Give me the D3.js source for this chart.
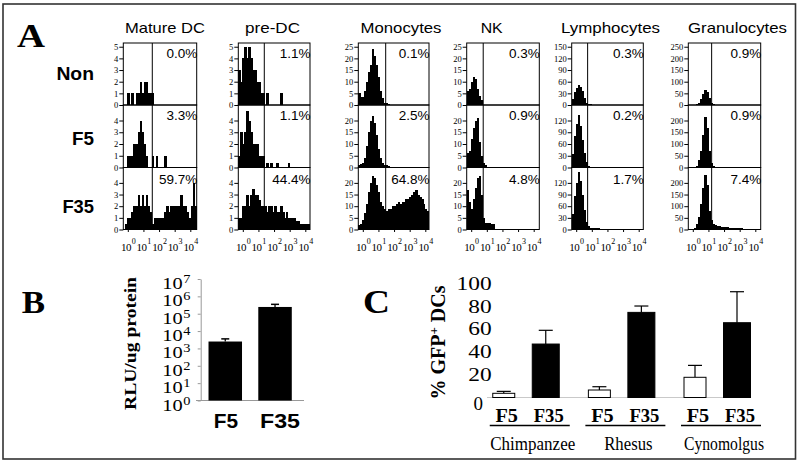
<!DOCTYPE html>
<html><head><meta charset="utf-8">
<script src="https://cdn.jsdelivr.net/npm/d3@7"></script>
<style>body{margin:0;background:#fff}svg{display:block}</style>
</head><body><svg id="c" width="800" height="463"></svg>
<script>
// ================= DATA =================
const populations = ["Mature DC","pre-DC","Monocytes","NK","Lymphocytes","Granulocytes"];
const conditions = ["Non","F5","F35"];
const pctNon = ["0.0%","1.1%","0.1%","0.3%","0.3%","0.9%"];
const pctF5  = ["3.3%","1.1%","2.5%","0.9%","0.2%","0.9%"];
const pctF35 = ["59.7%","44.4%","64.8%","4.8%","1.7%","7.4%"];
const gateLog = [1.58, 1.45, 1.55, 0.91, 0.89, 1.29];   // gate position, decades
const yTicksMDC  = [0,1,2,3,4,5];
const yTicksPre  = [0,1,2,3,4,5];
const yTicksMono = [0,5,10,15,20,25];
const yTicksNK   = [0,5,10,15,20,25];
const yTicksLym  = [0,30,60,90,120,150];
const yTicksGran = [0,50,100,150,200,250];
const xExponents = ["0","1","2","3","4"];

// histogram counts, 36 bins over 10^0..10^4
const mdcNon = [0,0,1,0,1,0,1,1,2,1, 2,2,1,1,1,0,0,0,0,0, 0,0,0,0,0,0,0,0,0,0, 0,0,0,0,0,0];
const mdcF5  = [0,0,1,1,1,2,2,3,4,3, 2,1,0,0,1,0,1,0,0,0, 1,0,0,0,0,0,0,0,0,0, 0,0,0,0,0,0];
const mdcF35 = [0,0.5,1,1,1.5,2,2,3,2,3, 2,3,2,1.5,0.5,1,1,1,1,1, 1.5,2,1.5,2,2,2,2,2,3,2, 2,1.5,1,2,4,2];
const preNon = [3,2,4,5,4,5,4,3,3,2, 2,1,1,0,1,0,0,0,0,0, 0,1,0,0,0,0,0,0,0,0, 0,0,0,0,0,0];
const preF5  = [1,3,2,3,4.8,4,3,2,2,2, 1,1,1,0,0.4,0,0.4,0,0,0.4, 0,0,0,0,0,0.4,0,0,0,0, 0,0,0,0,0,0];
const preF35 = [1,1,2,2,3,2,3,3.5,3,3, 2.5,2,2,2,1.5,2,2,1.5,2,1.5, 1.5,2,1.5,1,1.5,1,1,1,1,0.7, 0.7,0.5,0.5,0.5,0.5,0.5];
const monoNon = [5,3.5,3.5,6,10,14,17,24,21,17, 12,6,3,1,1,0.5,0,0,0,0, 0,0,0,0,0,0,0,0,0,0, 0,0,0,0,0,0];
const monoF5  = [1,1.5,2,4,9,15,20,22,19,14, 8,4,2,1,1,0.5,0.4,0.4,0.4,0.4, 0.4,0.4,0.4,0.4,0.4,0.4,0.4,0.4,0.4,0.4, 0.4,0.4,0.4,0.4,0.4,0.4];
const monoF35 = [2,2.5,4,7,11,16,20,23,22,19, 16,12,10,9,8,9,9,10,10,11, 12,11,12,12,13,13,14,15,16,17, 15,14,13,11,9,8];
const nkNon = [6,7,10,12,11,7,4,2,0,0, 0,0,0,0,0,0,0,0,0,0, 0,0,0,0,0,0,0,0,0,0, 0,0,0,0,0,0];
const nkF5  = [6,7,12,17,20,21,11,5,2,1, 0,0,0,0,0,0,0,0,0,0, 0,0,0,0,0,0,0,0,0,0, 0,0,0,0,0,0];
const nkF35 = [17,12,9,13,18,22,23,15,5,3, 3,3,2.5,2.5,0,0,0,0,0,0, 0,0,0,0,0,0,0,0,0,0, 0,0,0,0,0,0];
const lymNon = [15,33,45,52,46,35,18,6,2,1.5, 1,0,0,0,0,0,0,0,0,0, 0,0,0,0,0,0,0,0,0,0, 0,0,0,0,0,0];
const lymF5  = [35,80,110,135,105,70,38,14,5,2, 1,0,0,0,0,0,0,0,0,0, 0,0,0,0,0,0,0,0,0,0, 0,0,0,0,0,0];
const lymF35 = [40,85,120,148,125,90,50,20,8,5, 4,4,3,3,2,2,1.5,1.5,1,1, 1,1,1,1,1,1,0,0,0,0, 0,0,0,0,0,0];
const granNon = [0,0,0,2,5,10,25,48,65,55, 30,10,3,1,0,0,0,0,0,0, 0,0,0,0,0,0,0,0,0,0, 0,0,0,0,0,0];
const granF5  = [0,0,0,2,8,30,70,140,215,170, 70,20,6,2,0,0,0,0,0,0, 0,0,0,0,0,0,0,0,0,0, 0,0,0,0,0,0];
const granF35 = [0,0,3,8,25,55,110,180,235,190, 80,40,25,20,16,14,12,11,10,9, 8,7,7,6,6,5,5,4,4,4, 3,3,3,2,2,2];

// Panel B
const bCats = ["F5","F35"];
const bMean = [2500, 245000];
const bErrTop = [3550, 347000];
const bExponents = [0,1,2,3,4,5,6,7];

// Panel C
const species = ["Chimpanzee","Rhesus","Cynomolgus"];
const vectors = ["F5","F35"];
const f5Mean = [3.7, 6.6, 17.8];
const f5Err  = [1.7, 2.9, 10.5];
const f35Mean = [47.1, 75.0, 65.9];
const f35Err  = [12.1, 5.6, 27.3];
const cTicks = [0,20,40,60,80,100];

// ================= LAYOUT =================
const svg = d3.select("#c");
const SANS = "'Liberation Sans', Arial, sans-serif";
const SERIF = "'Liberation Serif', 'Times New Roman', serif";
function T(p, x, y, s, o = {}) {
  const t = p.append("text").attr("x", x).attr("y", y).text(s)
    .attr("font-family", o.fam || SANS).attr("font-size", o.size || 12)
    .attr("font-weight", o.bold ? "bold" : "normal")
    .attr("text-anchor", o.anchor || "start").attr("fill", "#000");
  if (o.len) t.attr("textLength", o.len).attr("lengthAdjust", "spacingAndGlyphs");
  return t;
}

svg.append("rect").attr("x", 3).attr("y", 4).attr("width", 792.5).attr("height", 455)
  .attr("fill", "none").attr("stroke", "#333").attr("stroke-width", 1.6);

// ---------- Panel A ----------
const histData = [
  [mdcNon, mdcF5, mdcF35], [preNon, preF5, preF35], [monoNon, monoF5, monoF35],
  [nkNon, nkF5, nkF35], [lymNon, lymF5, lymF35], [granNon, granF5, granF35]
];
const yTicksAll = [yTicksMDC, yTicksPre, yTicksMono, yTicksNK, yTicksLym, yTicksGran];
const pctAll = [pctNon, pctF5, pctF35];
const colLeft = [123.3, 238.3, 358.3, 466.7, 571.7, 688.3];
const colRight = [196.7, 310, 429, 539.3, 643.3, 760.7];
const rowTop = [43, 105, 167.5];
const rowBot = [105, 167.5, 229.5];
const titleCenter = [165, 272.5, 401, 491.7, 610.5, 737.5];
const titleLen = [80, 55, 81, 22, 99, 99];
const rowLabelBase = [80, 145, 213];
const rowLabelLen = [37.6, 22, 31.6];
const nBins = 36;

const A = svg.append("g");
T(A, 17, 47, "A", { fam: SERIF, size: 34, bold: true, len: 28 });
conditions.forEach((c, r) => T(A, 94, rowLabelBase[r], c, { size: 18, bold: true, anchor: "end", len: rowLabelLen[r] }));

populations.forEach((pop, ci) => {
  const g = A.append("g");
  T(g, titleCenter[ci], 33, pop, { size: 15, anchor: "middle", len: titleLen[ci] });
  const x = d3.scaleLinear().domain([0, 4]).range([colLeft[ci], colRight[ci]]);
  const xl = d3.scaleLinear().domain([0, 4]).range([colLeft[ci] + 5, colLeft[ci] + 67.5]);
  const ticks = yTicksAll[ci];
  const ymax = ticks[ticks.length - 1] * 1.064;
  conditions.forEach((cond, r) => {
    const y = d3.scaleLinear().domain([0, ymax]).range([rowBot[r], rowTop[r]]);
    const vals = histData[ci][r];
    g.append("g").attr("shape-rendering", "crispEdges").selectAll("rect").data(vals).join("rect")
      .attr("x", (d, i) => x(i * 4 / nBins))
      .attr("width", (d, i) => x((i + 1) * 4 / nBins) - x(i * 4 / nBins) + 0.4)
      .attr("y", d => y(Math.min(d, ymax)))
      .attr("height", d => rowBot[r] - y(Math.min(d, ymax)))
      .attr("fill", "#000");
    const tv = r === 0 ? ticks : ticks.slice(0, -1);
    const ax = g.append("g").attr("transform", `translate(${colLeft[ci]},0)`)
      .call(d3.axisLeft(y).tickValues(tv).tickFormat(d3.format("d")).tickSize(4).tickSizeOuter(0).tickPadding(1));
    ax.select(".domain").remove();
    ax.selectAll("text").attr("font-family", SERIF).attr("font-size", 8.5).attr("fill", "#000");
    ax.selectAll("line").attr("stroke", "#000");
    g.append("rect").attr("x", colLeft[ci]).attr("y", rowTop[r])
      .attr("width", colRight[ci] - colLeft[ci]).attr("height", rowBot[r] - rowTop[r])
      .attr("fill", "none").attr("stroke", "#000").attr("stroke-width", 1);
    T(g, colRight[ci] + 0.5, rowTop[r] + (r === 2 ? 16.5 : 15), pctAll[r][ci], { size: 13.5, anchor: "end" });
  });
  g.append("line").attr("x1", x(gateLog[ci])).attr("x2", x(gateLog[ci]))
    .attr("y1", rowTop[0]).attr("y2", rowBot[2]).attr("stroke", "#000").attr("stroke-width", 1);
  xExponents.forEach((e, i) => {
    const cx = xl(i);
    g.append("line").attr("x1", cx).attr("x2", cx).attr("y1", rowBot[2]).attr("y2", rowBot[2] + 2.5)
      .attr("stroke", "#000");
    const t = g.append("text").attr("x", cx).attr("y", 250.5).attr("text-anchor", "middle")
      .attr("font-family", SERIF).attr("font-size", 11).attr("fill", "#000");
    t.append("tspan").text("10").attr("letter-spacing", -0.5);
    t.append("tspan").text(e).attr("font-size", 8).attr("dx", 0.8).attr("dy", -6.5);
  });
});

// ---------- Panel B ----------
const B = svg.append("g");
T(B, 21.7, 312.7, "B", { fam: SERIF, size: 32, bold: true, len: 23.3 });
const bY = d3.scaleLog().domain([1, 1e7]).range([400.5, 279]);
const bX = d3.scaleBand().domain(bCats).range([200.7, 299.6]).paddingInner(0.327).paddingOuter(0.157);
const bAx = B.append("g").attr("transform", "translate(200.7,0)")
  .call(d3.axisLeft(bY).tickValues(bExponents.map(e => Math.pow(10, e))).tickSize(3).tickSizeOuter(0).tickFormat(""));
bAx.select(".domain").attr("stroke", "#999");
bAx.selectAll("line").attr("stroke", "#999");
B.append("line").attr("x1", 196).attr("x2", 304).attr("y1", bY(1)).attr("y2", bY(1)).attr("stroke", "#999").attr("stroke-width", 1.2);
bExponents.forEach(e => {
  const yy = bY(Math.pow(10, e));
  const t = B.append("g").attr("transform", `translate(190.5,${yy + 10}) scale(1.2,1)`)
    .append("text").attr("x", 0).attr("y", 0).attr("text-anchor", "end")
    .attr("font-family", SERIF).attr("font-size", 17).attr("fill", "#000");
  t.append("tspan").text("10");
  t.append("tspan").text(String(e)).attr("font-size", 12).attr("dx", 0.5).attr("dy", -6);
});
bCats.forEach((c, i) => {
  const x0 = bX(c), w = bX.bandwidth(), cx = x0 + w / 2;
  B.append("rect").attr("x", x0).attr("width", w).attr("y", bY(bMean[i])).attr("height", bY(1) - bY(bMean[i])).attr("fill", "#000");
  B.append("line").attr("x1", cx).attr("x2", cx).attr("y1", bY(bMean[i])).attr("y2", bY(bErrTop[i])).attr("stroke", "#000").attr("stroke-width", 1.3);
  B.append("line").attr("x1", cx - 4).attr("x2", cx + 4).attr("y1", bY(bErrTop[i])).attr("y2", bY(bErrTop[i])).attr("stroke", "#000").attr("stroke-width", 1.5);
});
T(B, 226, 428, "F5", { size: 20, bold: true, anchor: "middle", len: 24.3 });
T(B, 280, 428, "F35", { size: 20, bold: true, anchor: "middle", len: 40 });
T(B.append("g").attr("transform", "translate(135.5,343.5) rotate(-90)"), 0, 0, "RLU/ug protein",
  { fam: SERIF, size: 17, bold: true, anchor: "middle", len: 133 });

// ---------- Panel C ----------
const C = svg.append("g");
T(C, 363, 313, "C", { fam: SERIF, size: 33, bold: true, len: 27 });
const cY = d3.scaleLinear().domain([0, 100]).range([397.5, 284]);
const cX0 = d3.scalePoint().domain(species).range([524.75, 716]);
const cX1 = d3.scalePoint().domain(vectors).range([-21, 21]);
const barW = { F5: 22, F35: 27 };
cTicks.forEach(t => {
  if (t === 0) T(C, 483, 410, "0", { fam: SERIF, size: 18, anchor: "end", len: 9.5 });
  else T(C, 491.7, cY(t) + 6, String(t), { fam: SERIF, size: 18, anchor: "end", len: String(t).length * 11.7 });
});
C.append("line").attr("x1", 487).attr("x2", 750).attr("y1", cY(0)).attr("y2", cY(0)).attr("stroke", "#bbb").attr("stroke-width", 0.8);
const tbl = [];
species.forEach((s, i) => {
  tbl.push({ s, v: "F5", m: f5Mean[i], e: f5Err[i] });
  tbl.push({ s, v: "F35", m: f35Mean[i], e: f35Err[i] });
});
tbl.forEach(d => {
  const cx = cX0(d.s) + cX1(d.v), w = barW[d.v];
  const top = cY(d.m + d.e);
  C.append("line").attr("x1", cx).attr("x2", cx).attr("y1", cY(d.m)).attr("y2", top).attr("stroke", "#000").attr("stroke-width", 1.2);
  C.append("line").attr("x1", cx - 7).attr("x2", cx + 7).attr("y1", top).attr("y2", top).attr("stroke", "#000").attr("stroke-width", 1.2);
  C.append("rect").attr("x", cx - w / 2).attr("width", w).attr("y", cY(d.m)).attr("height", cY(0) - cY(d.m))
    .attr("fill", d.v === "F5" ? "#fff" : "#000").attr("stroke", "#000").attr("stroke-width", 1);
  T(C, cx + 3, 421.7, d.v, { fam: SERIF, size: 19, bold: true, anchor: "middle", len: d.v === "F5" ? 22.5 : 30 });
});
const speciesLen = [85, 48.3, 80];
species.forEach((s, i) => {
  const gc = cX0(s);
  C.append("line").attr("x1", gc + 5 - 40).attr("x2", gc + 5 + 40).attr("y1", 425.5).attr("y2", 425.5).attr("stroke", "#000").attr("stroke-width", 1.3);
  T(C, gc + 8, 450, s, { fam: SERIF, size: 18, anchor: "middle", len: speciesLen[i] });
});
const ct = C.append("g").attr("transform", "translate(445,342.5) rotate(-90)").append("text")
  .attr("text-anchor", "middle").attr("font-family", SERIF).attr("font-size", 20).attr("font-weight", "bold");
ct.append("tspan").text("% GFP");
ct.append("tspan").text("+").attr("font-size", 13).attr("dy", -7);
ct.append("tspan").text(" DCs").attr("dy", 7);
</script></body></html>
